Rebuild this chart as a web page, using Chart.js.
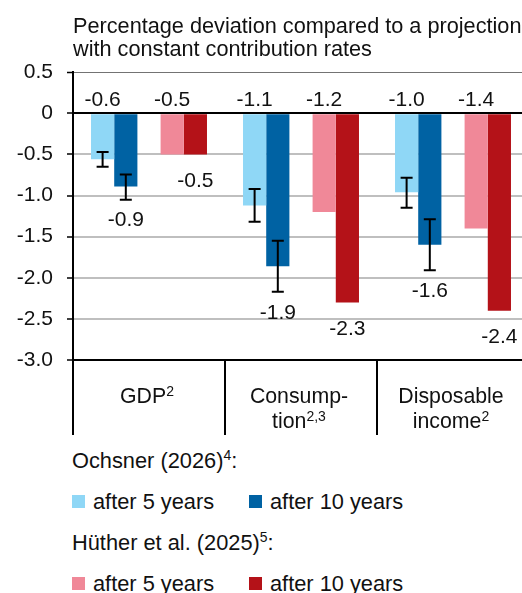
<!DOCTYPE html>
<html>
<head>
<meta charset="utf-8">
<script src="https://cdn.jsdelivr.net/npm/chart.js@4.4.1/dist/chart.umd.min.js"></script>
<style>
  body { margin: 0; overflow: hidden; background: #fff; font-family: 'Liberation Sans', Arial, sans-serif; color: #111; }
  #wrap { position: relative; width: 522px; height: 593px; overflow: hidden; }
  #chart { position: absolute; left: 0; top: 0; }
  #legend { position: absolute; left: 72px; top: 440px; font-size: 21.8px; }
  .row { height: 41px; line-height: 41px; white-space: nowrap; }
  .item { display: inline-block; }
  .item.first { width: 177px; }
  .sw { display: inline-block; width: 13px; height: 13px; margin-right: 8px; vertical-align: middle; position: relative; top: -2px; }
  sup { font-size: 0.64em; line-height: 0; vertical-align: 0.55em; }
</style>
</head>
<body>
<div id="wrap">
  <canvas id="chart" width="530" height="440"></canvas>
  <div id="legend"></div>
</div>
<script>
// categories on the x axis, '^' marks the footnote superscript
const categories = [['GDP^2'], ['Consump-', 'tion^2,3'], ['Disposable', 'income^2']];

// Ochsner (2026), model results with uncertainty bands
const ochsner5 = [-0.56, -1.12, -0.96];
const ochsner5Low = [-0.65, -1.32, -1.15];
const ochsner5High = [-0.47, -0.92, -0.785];
const ochsner5Labels = ['-0.6', '-1.1', '-1.0'];

const ochsner10 = [-0.89, -1.86, -1.60];
const ochsner10Low = [-1.05, -2.17, -1.91];
const ochsner10High = [-0.745, -1.55, -1.29];
const ochsner10Labels = ['-0.9', '-1.9', '-1.6'];

// Hüther et al. (2025)
const huether5 = [-0.5, -1.2, -1.4];
const huether5Labels = ['-0.5', '-1.2', '-1.4'];
const huether10 = [-0.5, -2.3, -2.4];
const huether10Labels = ['-0.5', '-2.3', '-2.4'];

const yTicks = [0.5, 0, -0.5, -1.0, -1.5, -2.0, -2.5, -3.0];

const FONT = "'Liberation Sans', Arial, sans-serif";
const colLightBlue = '#8fd7f6';
const colDarkBlue = '#0062a3';
const colPink = '#f08898';
const colRed = '#b41218';

// error bars for datasets that carry errLow / errHigh
const errorBars = {
  id: 'errorBars',
  afterDatasetsDraw(chart) {
    const ctx = chart.ctx;
    const y = chart.scales.y;
    ctx.save();
    ctx.strokeStyle = '#000';
    ctx.lineWidth = 2;
    chart.data.datasets.forEach((ds, i) => {
      if (!ds.errLow) return;
      chart.getDatasetMeta(i).data.forEach((bar, j) => {
        const top = y.getPixelForValue(ds.errHigh[j]);
        const bot = y.getPixelForValue(ds.errLow[j]);
        ctx.beginPath();
        ctx.moveTo(bar.x, top); ctx.lineTo(bar.x, bot);
        ctx.moveTo(bar.x - 6, top); ctx.lineTo(bar.x + 6, top);
        ctx.moveTo(bar.x - 6, bot); ctx.lineTo(bar.x + 6, bot);
        ctx.stroke();
      });
    });
    ctx.restore();
  }
};

// value labels: 5-year values above the zero line, 10-year values below the bar
const barLabels = {
  id: 'barLabels',
  afterDatasetsDraw(chart) {
    const ctx = chart.ctx;
    const y = chart.scales.y;
    ctx.save();
    ctx.font = '21px ' + FONT;
    ctx.fillStyle = '#111';
    ctx.textAlign = 'center';
    ctx.textBaseline = 'middle';
    chart.data.datasets.forEach((ds, i) => {
      if (!ds.valueLabels) return;
      chart.getDatasetMeta(i).data.forEach((bar, j) => {
        let py;
        if (ds.labelSide === 'top') {
          py = y.getPixelForValue(0) - 13;
        } else {
          const low = ds.errLow ? Math.min(ds.data[j], ds.errLow[j]) : ds.data[j];
          py = y.getPixelForValue(low) + (ds.errLow ? 21 : 27);
        }
        ctx.fillText(ds.valueLabels[j], bar.x, py);
      });
    });
    ctx.restore();
  }
};

// category names with raised footnote numbers, placed at the x scale ticks
const categoryLabels = {
  id: 'categoryLabels',
  afterDraw(chart) {
    const ctx = chart.ctx;
    const x = chart.scales.x;
    const mainFont = '21.3px ' + FONT;
    const supFont = '14px ' + FONT;
    ctx.save();
    ctx.fillStyle = '#111';
    ctx.textAlign = 'left';
    ctx.textBaseline = 'alphabetic';
    chart.data.labels.forEach((lines, i) => {
      const cx = x.getPixelForTick(i) - 2;
      lines.forEach((line, k) => {
        const parts = line.split('^');
        ctx.font = mainFont;
        const w1 = ctx.measureText(parts[0]).width;
        ctx.font = supFont;
        const w2 = parts[1] ? ctx.measureText(parts[1]).width : 0;
        const left = cx - (w1 + w2) / 2;
        const base = x.top + 43 + k * 25;
        ctx.font = mainFont;
        ctx.fillText(parts[0], left, base);
        if (parts[1]) {
          ctx.font = supFont;
          ctx.fillText(parts[1], left + w1, base - 7);
        }
      });
    });
    ctx.restore();
  }
};

const ctx = document.getElementById('chart').getContext('2d');

const chart = new Chart(ctx, {
  type: 'bar',
  data: {
    labels: categories,
    datasets: [
      { label: 'after 5 years', data: ochsner5, backgroundColor: colLightBlue,
        errLow: ochsner5Low, errHigh: ochsner5High, valueLabels: ochsner5Labels, labelSide: 'top' },
      { label: 'after 10 years', data: ochsner10, backgroundColor: colDarkBlue,
        errLow: ochsner10Low, errHigh: ochsner10High, valueLabels: ochsner10Labels, labelSide: 'bottom' },
      // empty slot between the two studies
      { label: '', data: [null, null, null], backgroundColor: 'transparent' },
      { label: 'after 5 years', data: huether5, backgroundColor: colPink,
        valueLabels: huether5Labels, labelSide: 'top' },
      { label: 'after 10 years', data: huether10, backgroundColor: colRed,
        valueLabels: huether10Labels, labelSide: 'bottom' }
    ]
  },
  options: {
    responsive: false,
    animation: false,
    categoryPercentage: 0.763,
    barPercentage: 1.0,
    layout: { padding: { left: 0, right: 1, top: 0, bottom: 0 } },
    plugins: {
      legend: { display: false },
      tooltip: { enabled: false },
      title: {
        display: true,
        fullSize: false,
        align: 'start',
        text: ['Percentage deviation compared to a projection', 'with constant contribution rates'],
        color: '#111',
        font: { family: FONT, size: 21.7, weight: 'normal', lineHeight: 1.075 },
        padding: { top: 15, bottom: 10.5 }
      }
    },
    scales: {
      x: {
        offset: true,
        grid: {
          offset: true,
          drawOnChartArea: false,
          drawTicks: true,
          tickLength: 75,
          color: '#000',
          lineWidth: 2
        },
        border: { display: true, color: '#000', width: 2 },
        ticks: {
          callback: () => '',
          maxRotation: 0,
          autoSkip: false
        },
        afterFit(scale) { scale.height = 80; }
      },
      y: {
        z: 1,
        min: -3,
        max: 0.5,
        afterBuildTicks(scale) { scale.ticks = yTicks.map(v => ({ value: v })); },
        ticks: {
          color: '#111',
          font: { family: FONT, size: 21 },
          padding: 14,
          callback: v => (v === 0 ? '0' : v.toFixed(1))
        },
        grid: {
          drawTicks: true,
          tickLength: 6,
          tickColor: '#000',
          tickWidth: 1.5,
          color: c => {
            const v = c.tick ? c.tick.value : null;
            if (v === 0 || v === -3) return '#000';
            if (v === 0.5) return 'rgba(0,0,0,0.55)';
            return 'rgba(0,0,0,0.25)';
          },
          lineWidth: c => {
            const v = c.tick ? c.tick.value : null;
            if (v === 0.5) return 1;
            return 2;
          }
        },
        border: { display: true, color: '#000', width: 2 },
        afterFit(scale) { scale.width = 73; }
      }
    }
  },
  plugins: [errorBars, barLabels, categoryLabels]
});

// legend below the chart, grouped by study
const legendGroups = [
  { title: 'Ochsner (2026)', note: '4', sets: [0, 1] },
  { title: 'Hüther et al. (2025)', note: '5', sets: [3, 4] }
];
const legend = document.getElementById('legend');
legendGroups.forEach(g => {
  const head = document.createElement('div');
  head.className = 'row';
  head.innerHTML = g.title + '<sup>' + g.note + '</sup>:';
  legend.appendChild(head);
  const row = document.createElement('div');
  row.className = 'row';
  g.sets.forEach((idx, k) => {
    const ds = chart.data.datasets[idx];
    const item = document.createElement('span');
    item.className = 'item' + (k === 0 ? ' first' : '');
    item.innerHTML = '<span class="sw" style="background:' + ds.backgroundColor + '"></span>' + ds.label;
    row.appendChild(item);
  });
  legend.appendChild(row);
});
</script>
</body>
</html>
